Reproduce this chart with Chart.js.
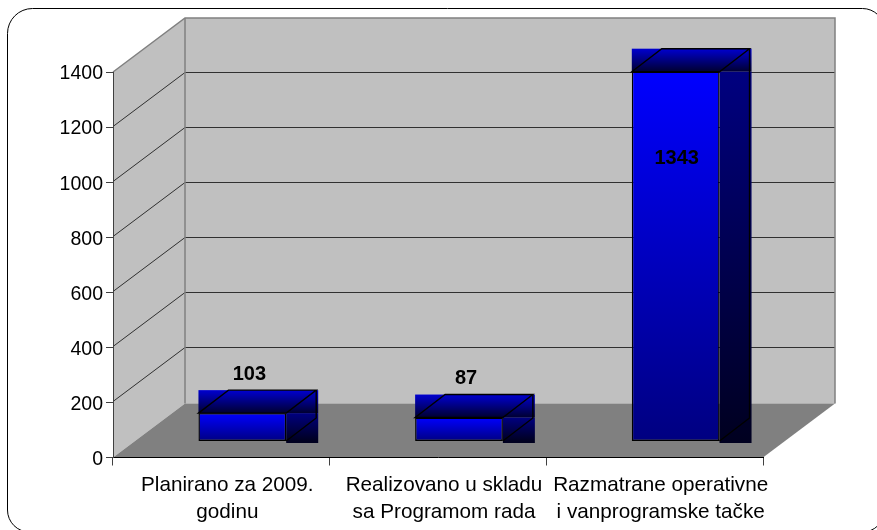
<!DOCTYPE html>
<html><head><meta charset="utf-8">
<style>html,body{margin:0;padding:0;background:#fff}canvas{display:block}</style>
<script src="https://cdn.jsdelivr.net/npm/chart.js@4"></script></head>
<body><div style="width:877px;height:530px;position:relative"><canvas id="c" width="877" height="530"></canvas></div>
<script>
const categories=[["Planirano za 2009.","godinu"],["Realizovano u skladu","sa Programom rada"],["Razmatrane operativne","i vanprogramske tačke"]];
const values=[103,87,1343];
const axisMax=1400, axisStep=200;
const DX=72,DY=54, BX=21,BY=16, BDX=30,BDY=23;
function poly(c,pts,fill,stroke,lw){c.beginPath();pts.forEach((p,i)=>i?c.lineTo(p[0],p[1]):c.moveTo(p[0],p[1]));c.closePath();if(fill){c.fillStyle=fill;c.fill();}if(stroke){c.strokeStyle=stroke;c.lineWidth=lw||1;c.stroke();}}
function seg(c,pts,stroke,lw){c.beginPath();pts.forEach((p,i)=>i?c.lineTo(p[0],p[1]):c.moveTo(p[0],p[1]));c.strokeStyle=stroke;c.lineWidth=lw||1;c.stroke();}
const frame={id:'frame',
beforeDraw(ch){const c=ch.ctx,a=ch.chartArea,y=ch.scales.y,l=a.left,r=a.right,t=a.top,b=a.bottom;c.save();
c.beginPath();c.roundRect(7.5,8.5,877,523.5,[25,22,22,22]);c.strokeStyle='#000';c.lineWidth=1;c.stroke();
poly(c,[[l+DX,t-DY],[r+DX,t-DY],[r+DX,b-DY],[l+DX,b-DY]],'#c0c0c0');
poly(c,[[l,t],[l+DX,t-DY],[l+DX,b-DY],[l,b]],'#c0c0c0');
poly(c,[[l,b],[l+DX,b-DY],[r+DX,b-DY],[r,b]],'#808080');
for(let v=axisStep;v<axisMax;v+=axisStep){const py=Math.round(y.getPixelForValue(v))-.5;seg(c,[[l,py],[l+DX,py-DY],[r+DX,py-DY]],'#303030');}
seg(c,[[l,t],[l+DX,t-DY],[r+DX,t-DY],[r+DX,b-DY]],'#808080',1.5);
seg(c,[[l+DX,t-DY],[l+DX,b-DY]],'#808080',1.5);
c.restore();},
beforeDatasetsDraw(ch){const c=ch.ctx,m=ch.getDatasetMeta(0);c.save();c.translate(BX,-BY);
m.data.forEach(e=>{const hw=e.width/2,x0=e.x-hw,x1=e.x+hw,top=e.y,bot=e.base;
let g=c.createLinearGradient(0,top-BDY,0,top);g.addColorStop(0,'#0000d0');g.addColorStop(1,'#000030');
c.fillStyle=g;c.fillRect(x0,top-BDY,x1+BDX+2-x0,BDY);
g=c.createLinearGradient(0,top,0,bot);g.addColorStop(0,'#000080');g.addColorStop(1,'#000020');
c.fillStyle=g;c.fillRect(x1,top,BDX+2,bot-top+2);});},
afterDatasetsDraw(ch){const c=ch.ctx,m=ch.getDatasetMeta(0);
m.data.forEach(e=>{const hw=e.width/2,x0=e.x-hw,x1=e.x+hw,top=e.y,bot=e.base;
poly(c,[[x0,top],[x0+BDX,top-BDY],[x1+BDX,top-BDY],[x1,top]],null,'#000',1.4);
seg(c,[[x1+BDX,top-BDY],[x1+BDX,bot-BDY],[x1,bot]],'#000',1.4);});
c.restore();
c.save();c.fillStyle='#000';c.font='bold 20px "Liberation Sans"';c.textAlign='center';c.textBaseline='middle';
m.data.forEach((e,i)=>{const inside=values[i]>axisMax/2;c.fillText(values[i],e.x+BX+(inside?1:7),inside?e.y-BY+87:e.y-BY-39);});
c.restore();}};
const ctx=document.getElementById('c').getContext('2d');
new Chart(ctx,{type:'bar',plugins:[frame],
data:{labels:categories,datasets:[{data:values,borderColor:'#000',borderWidth:1.4,borderSkipped:false,
backgroundColor(cx){const ch=cx.chart;if(!ch.chartArea||!cx.parsed)return '#0000ff';const g=ch.ctx.createLinearGradient(0,ch.scales.y.getPixelForValue(cx.parsed.y),0,ch.chartArea.bottom);g.addColorStop(0,'#0000ff');g.addColorStop(1,'#000080');return g;},
barPercentage:1,categoryPercentage:.405}]},
options:{responsive:false,animation:false,
layout:{padding:{left:0,right:114,top:72,bottom:0}},
plugins:{legend:{display:false},tooltip:{enabled:false}},
scales:{x:{grid:{display:true,drawOnChartArea:false,tickLength:8,color:'#404040'},border:{color:'#000'},ticks:{autoSkip:false,color:'#000',font:{family:'Liberation Sans',size:20.7,lineHeight:1.3},maxRotation:0,minRotation:0,padding:6,labelOffset:6},afterFit(s){s.height=72.5;}},
y:{min:0,max:axisMax,ticks:{stepSize:axisStep,callback:v=>String(v),color:'#000',font:{family:'Liberation Sans',size:19.5},padding:3,labelOffset:2},grid:{display:true,drawOnChartArea:false,tickLength:7,color:'#404040'},border:{color:'#404040'},afterFit(s){s.width=113;}}}}});
</script></body></html>
